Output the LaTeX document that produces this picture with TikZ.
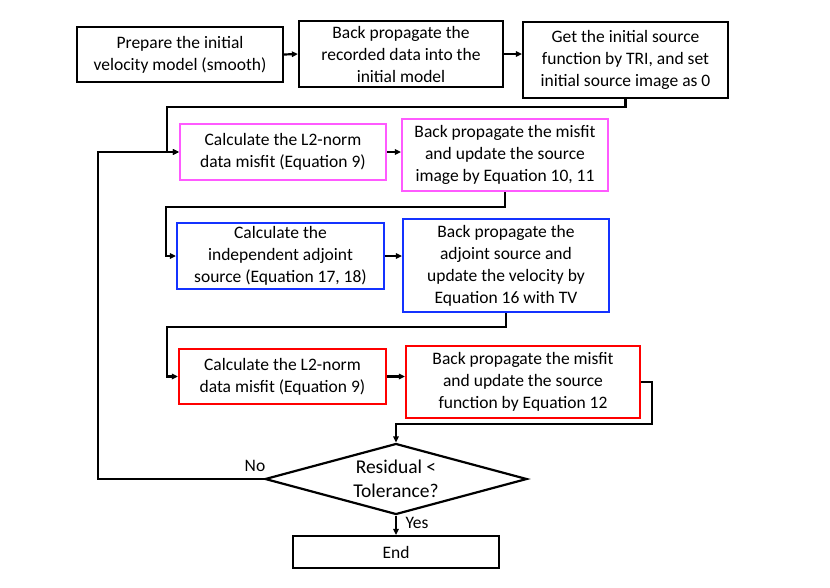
\documentclass[tikz,border=0pt]{standalone}
\usepackage{fontspec}
\setmainfont{Carlito}
\usetikzlibrary{arrows.meta,shapes.geometric,calc}
\definecolor{mag}{RGB}{255,90,255}
\definecolor{blu}{RGB}{20,50,255}
\definecolor{rd}{RGB}{255,0,0}
\begin{document}
\begin{tikzpicture}[x=1pt,y=-1pt,
  box/.style={draw,line width=2.2pt,inner sep=0pt,align=center,
    font=\fontsize{17.5}{22}\selectfont},
  conn/.style={line width=2.2pt},
  arr/.style={conn,-{Triangle[length=6pt,width=5.5pt]}},
  lbl/.style={font=\fontsize{17.5}{22}\selectfont,inner sep=0pt}]
\useasboundingbox (0,0) rectangle (830,587);
\node[box,minimum width=206,minimum height=55] (b1) at (180,54.5)
  {Prepare the initial\\velocity model (smooth)};
\node[box,minimum width=204,minimum height=66] (b2) at (401,54)
  {Back propagate the\\recorded data into the\\initial model};
\node[box,minimum width=205,minimum height=76] (b3) at (625.5,60)
  {Get the initial source\\function by TRI, and set\\initial source image as 0};
\node[box,draw=mag,minimum width=206,minimum height=56] (b4) at (283,152)
  {Calculate the L2-norm\\data misfit (Equation 9)};
\node[box,draw=mag,minimum width=206,minimum height=72] (b5) at (505,155)
  {Back propagate the misfit\\and update the source\\image by Equation 10, 11};
\node[box,draw=blu,minimum width=207,minimum height=66] (b6) at (280.5,256)
  {Calculate the\\independent adjoint\\source (Equation 17, 18)};
\node[box,draw=blu,minimum width=206,minimum height=93] (b7) at (506,265.5)
  {Back propagate the\\adjoint source and\\update the velocity by\\Equation 16 with TV};
\node[box,draw=rd,minimum width=207,minimum height=55] (b8) at (282.5,376.5)
  {Calculate the L2-norm\\data misfit (Equation 9)};
\node[box,draw=rd,minimum width=234,minimum height=72] (b9) at (523,382)
  {Back propagate the misfit\\and update the source\\function by Equation 12};
\node[box,diamond,aspect=3.7,minimum width=262,minimum height=71,
  font=\fontsize{19.5}{23.5}\selectfont] (dia) at (396,479)
  {Residual <\\Tolerance?};
\node[box,minimum width=206,minimum height=32] (end) at (396,552) {End};
\node[lbl] (no) at (255,466) {No};
\node[lbl] (yes) at (417,523) {Yes};
\coordinate (k1) at (167,107);
\coordinate (k2) at (166,207);
\coordinate (k3) at (167,327);
\coordinate (k4) at (652,424);
\coordinate (k5) at (98,300);
\draw[arr] (b1.east) -- (b2.west);
\draw[arr] (b2.east) -- (b2.east -| b3.west);
\draw[arr] (b3.south) |- (k1) |- (b4.west);
\draw[arr] (b4.east) -- (b4.east -| b5.west);
\draw[arr] (b5.south) |- (k2) |- (b6.west);
\draw[arr] (b6.east) -- (b6.east -| b7.west);
\draw[arr] (b7.south) |- (k3) |- (b8.west);
\draw[arr] (b8.east) -- (b8.east -| b9.west);
\draw[arr] (b9.east) -| (k4) -| (dia.north);
\draw[arr] (dia.west) -| (k5) |- (b4.west);
\draw[arr] (dia.south) -- (end.north);
\end{tikzpicture}
\end{document}
